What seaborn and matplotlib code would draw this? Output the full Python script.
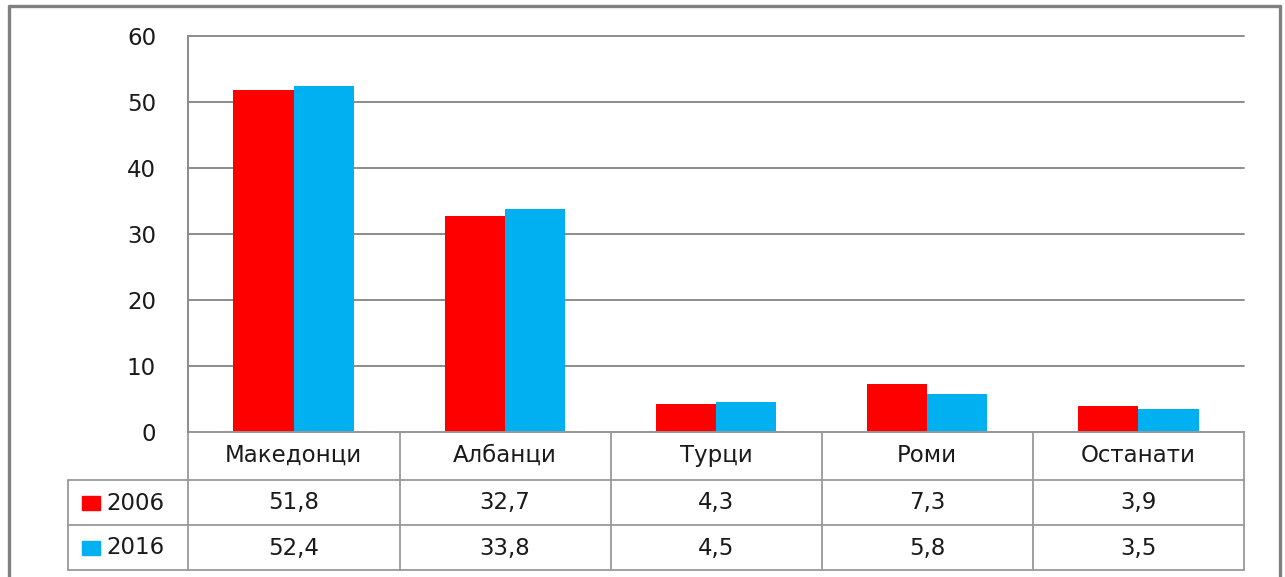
import pandas as pd
import matplotlib
matplotlib.use("Agg")
import matplotlib.pyplot as plt
import seaborn as sns
from matplotlib.lines import Line2D
from matplotlib.patches import Rectangle

# data
groups = ["Македонци", "Албанци", "Турци", "Роми", "Останати"]
years = ["2006", "2016"]
values2006 = [51.8, 32.7, 4.3, 7.3, 3.9]
values2016 = [52.4, 33.8, 4.5, 5.8, 3.5]
yticks = [0, 10, 20, 30, 40, 50, 60]

colors = ["#ff0000", "#00b0f0"]
gridColor = "#8c8c8c"
tableColor = "#9a9a9a"
textColor = "#1a1a1a"

sns.set_style("white")
matplotlib.rcParams['font.family'] = ["DejaVu Sans"]

df = pd.DataFrame({
    "group": groups * 2,
    "year": [years[0]] * len(groups) + [years[1]] * len(groups),
    "value": values2006 + values2016,
})

W, H = 1285, 577
fig = plt.figure(figsize=(W / 100, H / 100), dpi=100)

# plot area in pixels
left, right, top, bottom = 188, 1244, 36, 432
ax = fig.add_axes([left / W, 1 - bottom / H, (right - left) / W, (bottom - top) / H])

sns.barplot(data=df, x="group", y="value", hue="year", palette=colors,
            width=0.57, gap=0, saturation=1, legend=False, linewidth=0, ax=ax)

ax.set_xlim(-0.5, len(groups) - 0.5)
ax.set_ylim(0, 60)
ax.set_yticks(yticks)
ax.set_yticklabels([str(t) for t in yticks])
ax.yaxis.grid(True, color=gridColor, linewidth=1.4)
for gl in ax.get_ygridlines():
    gl.set_clip_on(False)
ax.set_axisbelow(True)
for s in ["top", "right", "bottom"]:
    ax.spines[s].set_visible(False)
ax.spines["left"].set_color(gridColor)
ax.spines["left"].set_linewidth(1.4)
ax.set_xlabel("")
ax.set_ylabel("")
ax.tick_params(axis="y", length=0, pad=23, labelsize=16.5, labelcolor=textColor)
ax.tick_params(axis="x", length=0, pad=17, labelsize=16.5, labelcolor=textColor)
for lab in ax.get_xticklabels():
    lab.set_verticalalignment("center")

# data table below the plot (axes fraction units)
def ypos(px):
    return -(px - bottom) / (bottom - top)

def xpos(px):
    return (px - left) / (right - left)

rowLines = [432, 480, 525, 570]
colEdges = [188, 400, 611, 822, 1033, 1244]
tableLeft = 68
lk = dict(transform=ax.transAxes, color=tableColor, linewidth=1.3, clip_on=False)

ax.add_line(Line2D([xpos(188), xpos(1244)], [ypos(432), ypos(432)], **lk))
for r in rowLines[1:]:
    ax.add_line(Line2D([xpos(tableLeft), xpos(1244)], [ypos(r), ypos(r)], **lk))
for c in colEdges:
    ax.add_line(Line2D([xpos(c), xpos(c)], [ypos(432), ypos(570)], **lk))
ax.add_line(Line2D([xpos(tableLeft), xpos(tableLeft)], [ypos(480), ypos(570)], **lk))

rowCenters = [503, 548]
for rowIdx, (yr, vals) in enumerate(zip(years, [values2006, values2016])):
    yc = ypos(rowCenters[rowIdx])
    ax.add_patch(Rectangle((xpos(82), yc - 7 / 396), 18 / 1056, 14 / 396,
                           transform=ax.transAxes, color=colors[rowIdx], clip_on=False))
    ax.text(xpos(106), yc, yr, transform=ax.transAxes, ha="left", va="center",
            fontsize=16.5, color=textColor)
    for i, v in enumerate(vals):
        ax.text(i, yc, f"{v:.1f}".replace(".", ","),
                transform=ax.get_xaxis_transform(), ha="center", va="center",
                fontsize=16.5, color=textColor)

# outer frame
fk = dict(transform=None, color="#808080", linewidth=2.4)
fig.add_artist(Line2D([9, 9], [0, H - 6], **fk))
fig.add_artist(Line2D([9, 1280], [H - 6, H - 6], **fk))
fig.add_artist(Line2D([1280, 1280], [0, H - 6], **fk))

fig.savefig("out.png", dpi=100)
